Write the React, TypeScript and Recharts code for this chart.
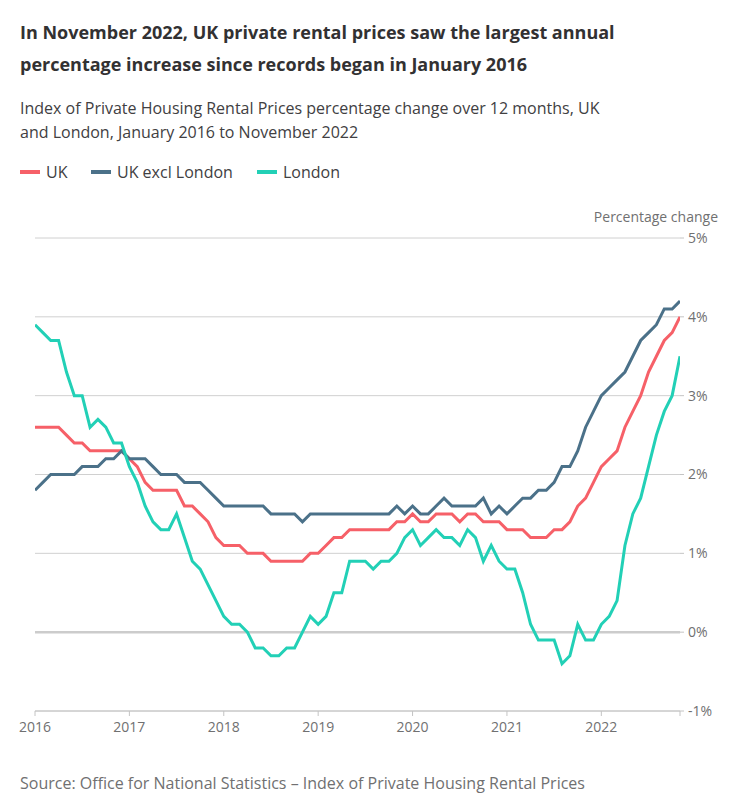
import React from 'react';
import { LineChart, Line, XAxis, YAxis, CartesianGrid, ReferenceLine } from 'recharts';

// Tick labels
const yearTicks = ['2016', '2017', '2018', '2019', '2020', '2021', '2022'];
const yTicks = [-1, 0, 1, 2, 3, 4, 5];

// Categories: months Jan 2016 .. Nov 2022
const monthNames = ['Jan', 'Feb', 'Mar', 'Apr', 'May', 'Jun', 'Jul', 'Aug', 'Sep', 'Oct', 'Nov', 'Dec'];
const months: string[] = [];
yearTicks.forEach((y) => monthNames.forEach((m) => months.push(`${m} ${y}`)));
months.splice(83);

// Series values (% change over 12 months)
const ukValues = [
  2.6, 2.6, 2.6, 2.6, 2.5, 2.4, 2.4, 2.3, 2.3, 2.3, 2.3, 2.3,
  2.2, 2.1, 1.9, 1.8, 1.8, 1.8, 1.8, 1.6, 1.6, 1.5, 1.4, 1.2,
  1.1, 1.1, 1.1, 1.0, 1.0, 1.0, 0.9, 0.9, 0.9, 0.9, 0.9, 1.0,
  1.0, 1.1, 1.2, 1.2, 1.3, 1.3, 1.3, 1.3, 1.3, 1.3, 1.4, 1.4,
  1.5, 1.4, 1.4, 1.5, 1.5, 1.5, 1.4, 1.5, 1.5, 1.4, 1.4, 1.4,
  1.3, 1.3, 1.3, 1.2, 1.2, 1.2, 1.3, 1.3, 1.4, 1.6, 1.7, 1.9,
  2.1, 2.2, 2.3, 2.6, 2.8, 3.0, 3.3, 3.5, 3.7, 3.8, 4.0,
];
const ukExLondonValues = [
  1.8, 1.9, 2.0, 2.0, 2.0, 2.0, 2.1, 2.1, 2.1, 2.2, 2.2, 2.3,
  2.2, 2.2, 2.2, 2.1, 2.0, 2.0, 2.0, 1.9, 1.9, 1.9, 1.8, 1.7,
  1.6, 1.6, 1.6, 1.6, 1.6, 1.6, 1.5, 1.5, 1.5, 1.5, 1.4, 1.5,
  1.5, 1.5, 1.5, 1.5, 1.5, 1.5, 1.5, 1.5, 1.5, 1.5, 1.6, 1.5,
  1.6, 1.5, 1.5, 1.6, 1.7, 1.6, 1.6, 1.6, 1.6, 1.7, 1.5, 1.6,
  1.5, 1.6, 1.7, 1.7, 1.8, 1.8, 1.9, 2.1, 2.1, 2.3, 2.6, 2.8,
  3.0, 3.1, 3.2, 3.3, 3.5, 3.7, 3.8, 3.9, 4.1, 4.1, 4.2,
];
const londonValues = [
  3.9, 3.8, 3.7, 3.7, 3.3, 3.0, 3.0, 2.6, 2.7, 2.6, 2.4, 2.4,
  2.1, 1.9, 1.6, 1.4, 1.3, 1.3, 1.5, 1.2, 0.9, 0.8, 0.6, 0.4,
  0.2, 0.1, 0.1, 0.0, -0.2, -0.2, -0.3, -0.3, -0.2, -0.2, 0.0, 0.2,
  0.1, 0.2, 0.5, 0.5, 0.9, 0.9, 0.9, 0.8, 0.9, 0.9, 1.0, 1.2,
  1.3, 1.1, 1.2, 1.3, 1.2, 1.2, 1.1, 1.3, 1.2, 0.9, 1.1, 0.9,
  0.8, 0.8, 0.5, 0.1, -0.1, -0.1, -0.1, -0.4, -0.3, 0.1, -0.1, -0.1,
  0.1, 0.2, 0.4, 1.1, 1.5, 1.7, 2.1, 2.5, 2.8, 3.0, 3.5,
];

const data = months.map((m, i) => ({
  t: i,
  month: m,
  uk: ukValues[i],
  ukExLondon: ukExLondonValues[i],
  london: londonValues[i],
}));

const xTicks = [0, 12, 24, 36, 48, 60, 72, 82];

const COLORS = { uk: '#f66068', ukEx: '#4b7189', london: '#22d0b6' };
const FONT = '"Open Sans", "Noto Sans", sans-serif';

const legendItems = [
  { label: 'UK', color: COLORS.uk, x: 20 },
  { label: 'UK excl London', color: COLORS.ukEx, x: 91 },
  { label: 'London', color: COLORS.london, x: 257 },
];

export default function App() {
  return (
    <div
      style={{
        position: 'absolute',
        left: 0,
        top: 0,
        width: 756,
        height: 810,
        background: '#fff',
        fontFamily: FONT,
        overflow: 'hidden',
      }}
    >
      <div
        style={{
          position: 'absolute',
          left: 20,
          top: 16,
          fontSize: 18,
          lineHeight: '32px',
          fontWeight: 700,
          color: '#323132',
          whiteSpace: 'nowrap',
        }}
      >
        In November 2022, UK private rental prices saw the largest annual
        <br />
        percentage increase since records began in January 2016
      </div>
      <div
        style={{
          position: 'absolute',
          left: 20,
          top: 96,
          fontSize: 16,
          lineHeight: '24px',
          color: '#414042',
          whiteSpace: 'nowrap',
        }}
      >
        Index of Private Housing Rental Prices percentage change over 12 months, UK
        <br />
        and London, January 2016 to November 2022
      </div>
      {legendItems.map((it) => (
        <div
          key={it.label}
          style={{
            position: 'absolute',
            left: it.x,
            top: 160,
            height: 24,
            display: 'flex',
            alignItems: 'center',
            fontSize: 16,
            color: '#414042',
            whiteSpace: 'nowrap',
          }}
        >
          <span style={{ display: 'inline-block', width: 20, height: 4, background: it.color, marginRight: 6 }} />
          <span style={{ lineHeight: '24px' }}>{it.label}</span>
        </div>
      ))}
      <div
        style={{
          position: 'absolute',
          right: 38,
          top: 207,
          fontSize: 14,
          lineHeight: '20px',
          color: '#707071',
          whiteSpace: 'nowrap',
        }}
      >
        Percentage change
      </div>
      <div style={{ position: 'absolute', left: 0, top: 200 }}>
        <LineChart
          width={756}
          height={540}
          data={data}
          margin={{ top: 38, right: 16, left: 35, bottom: 0 }}
        >
          <CartesianGrid vertical={false} stroke="#d0d0d0" strokeWidth={1} />
          <XAxis
            type="number"
            dataKey="t"
            domain={[0, 82]}
            ticks={xTicks}
            interval={0}
            tickFormatter={(v: number) => (v === 82 ? '' : yearTicks[v / 12])}
            height={29}
            tickSize={5}
            tickMargin={6}
            stroke="#c4c4c4"
            tick={{ fill: '#707071', fontSize: 14, fontFamily: FONT }}
            allowDataOverflow
          />
          <YAxis
            orientation="right"
            width={60}
            domain={[-1, 5]}
            ticks={yTicks}
            interval={0}
            axisLine={false}
            tickSize={4}
            tickMargin={4}
            tickLine={{ stroke: '#c4c4c4' }}
            tickFormatter={(v: number) => `${v}%`}
            tick={{ fill: '#707071', fontSize: 14, fontFamily: FONT, textAnchor: 'start' }}
          />
          <ReferenceLine y={0} stroke="#cccccc" strokeWidth={2.5} />
          <Line type="linear" dataKey="uk" stroke={COLORS.uk} strokeWidth={3} dot={false} isAnimationActive={false} />
          <Line type="linear" dataKey="ukExLondon" stroke={COLORS.ukEx} strokeWidth={3} dot={false} isAnimationActive={false} />
          <Line type="linear" dataKey="london" stroke={COLORS.london} strokeWidth={3} dot={false} isAnimationActive={false} />
        </LineChart>
      </div>
      <div
        style={{
          position: 'absolute',
          left: 20,
          top: 771,
          fontSize: 16,
          lineHeight: '24px',
          color: '#707071',
          whiteSpace: 'nowrap',
        }}
      >
        Source: Office for National Statistics – Index of Private Housing Rental Prices
      </div>
    </div>
  );
}
